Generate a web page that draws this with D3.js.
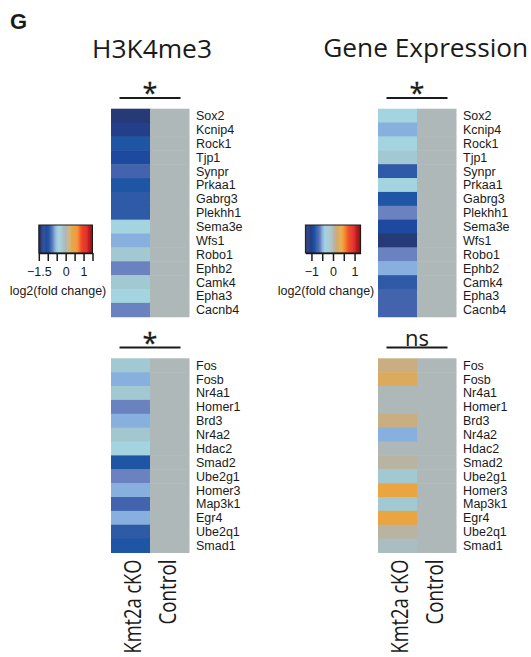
<!DOCTYPE html>
<html>
<head>
<meta charset="utf-8">
<script src="https://d3js.org/d3.v7.min.js"></script>
<style>
body { margin: 0; background: #fff; }
text { fill: #1a1a1a; }
.gene { font-family: "Liberation Sans", Arial, sans-serif; font-size: 12.5px; }
.title { font-family: "Open Sans", sans-serif; font-size: 26px; }
.legend text { font-family: "Liberation Sans", Arial, sans-serif; font-size: 12.5px; }
</style>
</head>
<body>
<svg id="chart" width="531" height="657"></svg>
<script>
var topGenes = ["Sox2", "Kcnip4", "Rock1", "Tjp1", "Synpr", "Prkaa1", "Gabrg3", "Plekhh1",
                "Sema3e", "Wfs1", "Robo1", "Ephb2", "Camk4", "Epha3", "Cacnb4"];
var bottomGenes = ["Fos", "Fosb", "Nr4a1", "Homer1", "Brd3", "Nr4a2", "Hdac2", "Smad2",
                   "Ube2g1", "Homer3", "Map3k1", "Egr4", "Ube2q1", "Smad1"];
var groups = ["Kmt2a cKO", "Control"];

// log2 fold change, Kmt2a cKO vs control
var h3TopValues = [-1.35, -1.23, -0.99, -1.11, -0.78, -0.99, -0.87, -0.87, -0.45, -0.6, -0.24, -0.69, -0.24, -0.45, -0.69];
var h3BottomValues = [-0.24, -0.6, -0.24, -0.69, -0.6, -0.22, -0.45, -0.99, -0.69, -0.6, -0.78, -0.6, -0.87, -0.99];
var geTopValues = [-0.375, -0.5, -0.375, -0.2, -0.725, -0.375, -0.825, -0.575, -0.925, -1.125, -0.575, -0.5, -0.725, -0.65, -0.65];
var geBottomValues = [0.125, 0.25, 0, 0, 0.125, -0.5, 0, 0.05, -0.2, 0.4, -0.2, 0.4, 0.05, -0.075];
var controlTopValues = [0, 0, 0, 0, 0, 0, 0, 0, 0, 0, 0, 0, 0, 0, 0];
var controlBottomValues = [0, 0, 0, 0, 0, 0, 0, 0, 0, 0, 0, 0, 0, 0];

var h3Range = [-1.5, 1.5];
var geRange = [-1.25, 1.25];
var h3Ticks = [-1.5, -1, -0.5, 0, 0.5, 1, 1.5];
var h3TickLabels = [-1.5, 0, 1];
var geTicks = [-1, -0.5, 0, 0.5, 1];
var geTickLabels = [-1, 0, 1];
var sigTop = ["*", "*"];
var sigBottom = ["*", "ns"];

var paletteStops = [0, .05, .09, .13, .17, .21, .24, .27, .30, .35, .42, .50, .55, .60, .66, .72, .80, .87, .94, 1];
var paletteColors = ["#1f2d6a", "#263a78", "#243f8a", "#1d4a9e", "#1f55a5", "#2e5aa8", "#4363ae", "#6a82c0",
                     "#87b0de", "#a3d4df", "#a2c8d2", "#afb8b9", "#c8ae80", "#dcaa5c", "#eba540", "#f5872a",
                     "#ee4a25", "#e22222", "#c01c1c", "#7f1515"];

var svg = d3.select("#chart");

function makeColor(range){
	return d3.scaleLinear()
		.domain(paletteStops.map(function(t){ return range[0] + t * (range[1] - range[0]); }))
		.range(paletteColors)
		.clamp(true);
}

var rowH = 13.87, colW = 39;

function drawHeatmap(genes, values, controls, color, x0, y0, sig){
	var g = svg.append("g");
	var y = d3.scaleBand().domain(genes).range([y0, y0 + genes.length * rowH]);
	var x = d3.scaleBand().domain(groups).range([x0, x0 + 2 * colW]);

	var cells = [];
	genes.forEach(function(gene, i){
		cells.push({gene: gene, group: groups[0], value: values[i]});
		cells.push({gene: gene, group: groups[1], value: controls[i]});
	});

	g.selectAll("rect.cell")
		.data(cells)
		.enter().append("rect")
		.attr("class", "cell")
		.attr("x", function(d){ return x(d.group); })
		.attr("y", function(d){ return y(d.gene); })
		.attr("width", x.bandwidth() + 0.5)
		.attr("height", y.bandwidth() + 0.5)
		.attr("fill", function(d){ return color(d.value); });

	g.selectAll("text.gene")
		.data(genes)
		.enter().append("text")
		.attr("class", "gene")
		.attr("x", x0 + 2 * colW + 7)
		.attr("y", function(d){ return y(d) + y.bandwidth() / 2; })
		.attr("dy", "0.36em")
		.text(function(d){ return d; });

	g.append("line")
		.attr("x1", x0 + 8.5).attr("x2", x0 + 69.5)
		.attr("y1", y0 - 10.8).attr("y2", y0 - 10.8)
		.attr("stroke", "#1a1a1a").attr("stroke-width", 2);

	var s = g.append("text")
		.attr("x", x0 + 39)
		.attr("text-anchor", "middle")
		.style("font-family", "'Open Sans', sans-serif")
		.text(sig);
	if(sig == "*"){
		s.attr("y", y0 - 5.5).style("font-size", "27px")
			.attr("stroke", "#1a1a1a").attr("stroke-width", 0.3);
	}
	else{
		s.attr("y", y0 - 12.5).style("font-size", "22px");
	}
	return x;
}

function drawColumnLabels(x, yTop){
	svg.append("g").selectAll("text")
		.data(groups)
		.enter().append("text")
		.attr("transform", function(d, i){
			return "translate(" + (x(d) + (i == 0 ? 29.5 : 26)) + "," + yTop + ") rotate(-90)";
		})
		.attr("text-anchor", "end")
		.attr("textLength", function(d, i){ return i == 0 ? 94 : 65; })
		.attr("lengthAdjust", "spacingAndGlyphs")
		.style("font-family", "'Open Sans', sans-serif")
		.style("font-size", "23px")
		.text(function(d){ return d; });
}

function drawLegend(color, range, ticks, labels, x0, x1, titleX){
	var g = svg.append("g").attr("class", "legend");
	var lx = d3.scaleLinear().domain(range).range([x0, x1]);
	var steps = d3.range(0, 60).map(function(i){ return range[0] + (range[1] - range[0]) * i / 60; });
	var w = (x1 - x0) / 60;

	g.selectAll("rect.step")
		.data(steps)
		.enter().append("rect")
		.attr("class", "step")
		.attr("x", function(d){ return lx(d); })
		.attr("y", 225)
		.attr("width", w + 0.4)
		.attr("height", 28)
		.attr("fill", function(d){ return color(d + (range[1] - range[0]) / 120); });

	g.append("rect")
		.attr("x", x0).attr("y", 225)
		.attr("width", x1 - x0).attr("height", 28)
		.attr("fill", "none").attr("stroke", "#1a1a1a").attr("stroke-width", 1);

	g.append("g")
		.attr("transform", "translate(0,253)")
		.call(d3.axisBottom(lx)
			.tickValues(ticks)
			.tickSize(8)
			.tickSizeOuter(0)
			.tickPadding(6)
			.tickFormat(function(d){ return labels.indexOf(d) >= 0 ? d3.format("")(d) : ""; }))
		.call(function(a){
			a.select(".domain").attr("stroke", "#1a1a1a").attr("stroke-width", 1.5);
			a.selectAll(".tick line").attr("stroke", "#1a1a1a").attr("stroke-width", 1.5);
			a.selectAll("text").attr("font-family", null).attr("font-size", null).attr("fill", "#1a1a1a");
		});

	g.append("text")
		.attr("x", titleX).attr("y", 295)
		.attr("text-anchor", "middle")
		.text("log2(fold change)");
}

var h3Color = makeColor(h3Range);
var geColor = makeColor(geRange);

svg.append("text")
	.attr("x", 10).attr("y", 29)
	.style("font-family", "'Liberation Sans', Arial, sans-serif")
	.style("font-weight", "bold")
	.style("font-size", "22px")
	.text("G");

svg.append("text").attr("class", "title")
	.attr("x", 152).attr("y", 58).attr("text-anchor", "middle")
	.attr("textLength", 120).attr("lengthAdjust", "spacingAndGlyphs")
	.text("H3K4me3");
svg.append("text").attr("class", "title")
	.attr("x", 425.7).attr("y", 57).attr("text-anchor", "middle")
	.attr("textLength", 205).attr("lengthAdjust", "spacingAndGlyphs")
	.text("Gene Expression");

drawHeatmap(topGenes, h3TopValues, controlTopValues, h3Color, 111, 108.7, sigTop[0]);
drawHeatmap(topGenes, geTopValues, controlTopValues, geColor, 378, 108.7, sigTop[1]);
var xl = drawHeatmap(bottomGenes, h3BottomValues, controlBottomValues, h3Color, 111, 358.3, sigBottom[0]);
var xr = drawHeatmap(bottomGenes, geBottomValues, controlBottomValues, geColor, 378, 358.3, sigBottom[1]);

drawColumnLabels(xl, 559.5);
drawColumnLabels(xr, 559.5);

drawLegend(h3Color, h3Range, h3Ticks, h3TickLabels, 38.8, 92.5, 58);
drawLegend(geColor, [-1.28, 1.28], geTicks, geTickLabels, 305.4, 360.6, 326);
</script>
</body>
</html>
